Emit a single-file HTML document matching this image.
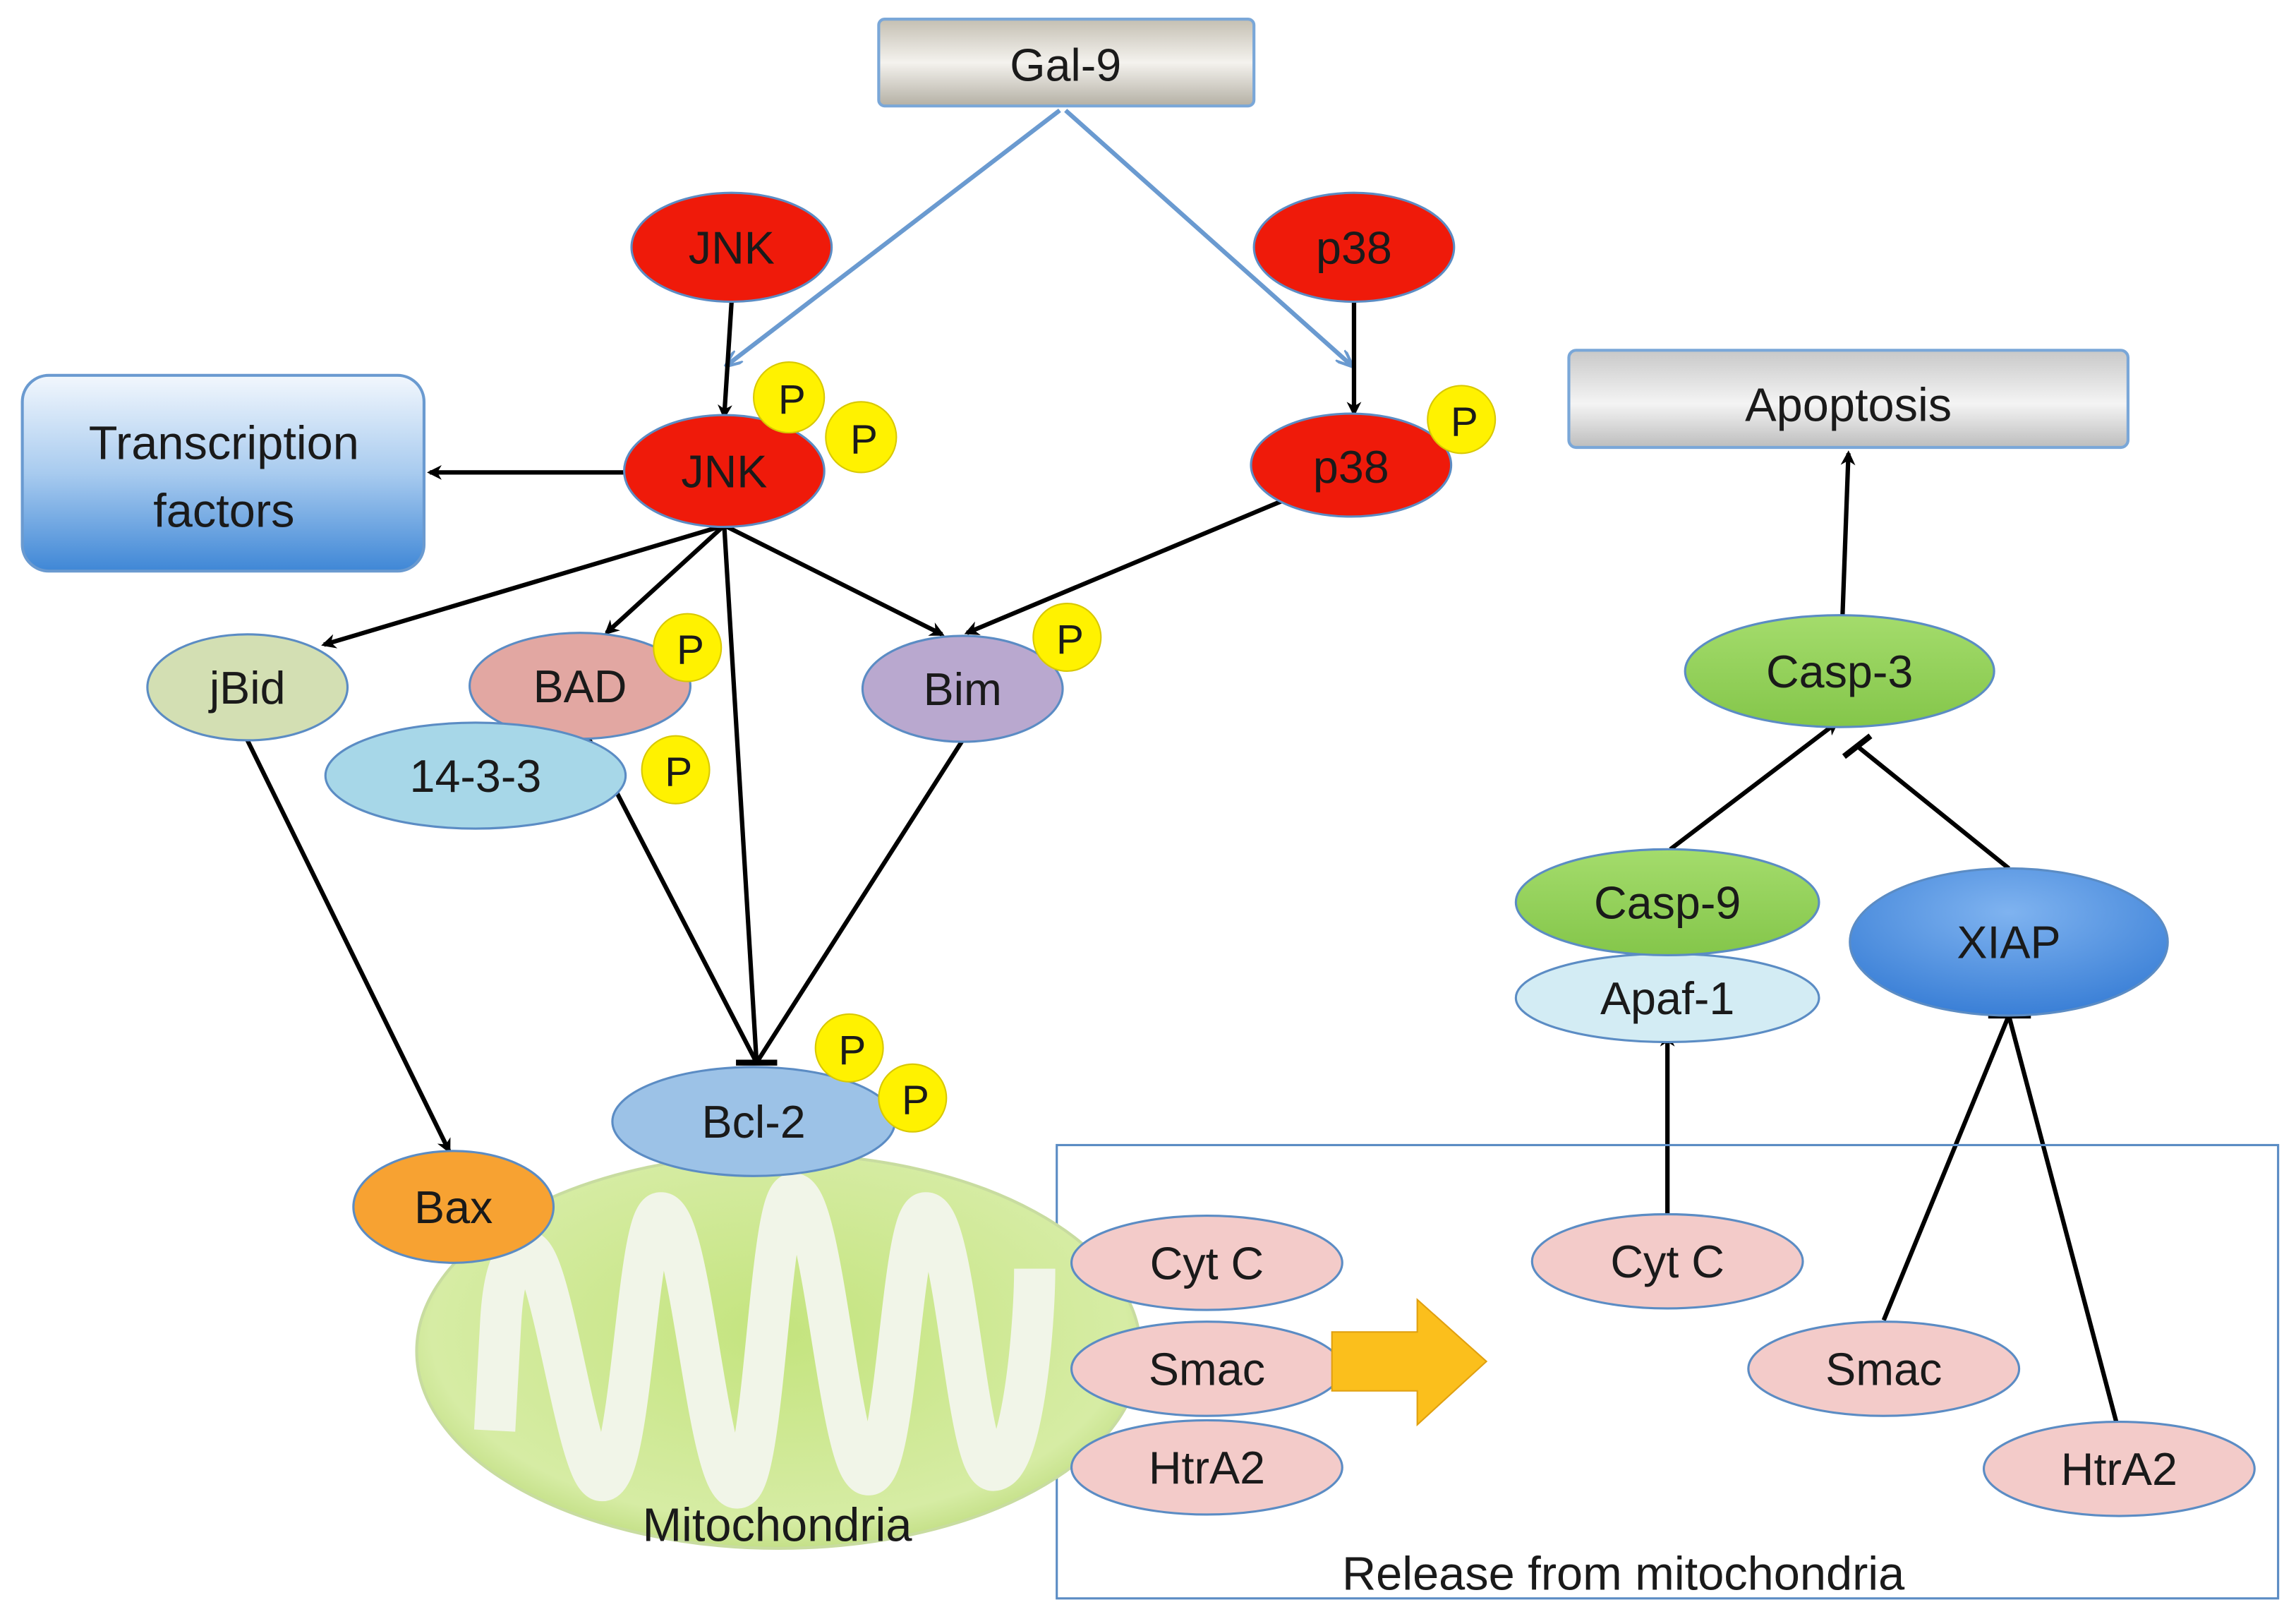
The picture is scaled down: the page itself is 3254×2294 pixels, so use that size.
<!DOCTYPE html>
<html><head><meta charset="utf-8"><style>
html,body{margin:0;padding:0;background:#fff;}
svg{display:block;}
text{font-family:"Liberation Sans",sans-serif;fill:#1a1a1a;}
</style></head><body>
<svg width="3254" height="2294" viewBox="0 0 1560 1100" xmlns="http://www.w3.org/2000/svg">
<defs>
<linearGradient id="gray" x1="0" y1="0" x2="0" y2="1"><stop offset="0" stop-color="#c4bfb2"/><stop offset="0.5" stop-color="#f4f2ee"/><stop offset="1" stop-color="#b4b0a4"/></linearGradient>
<linearGradient id="gray2" x1="0" y1="0" x2="0" y2="1"><stop offset="0" stop-color="#c8c8c8"/><stop offset="0.55" stop-color="#f4f4f4"/><stop offset="1" stop-color="#bdbdbd"/></linearGradient>
<linearGradient id="blueg" x1="0" y1="0" x2="0" y2="1"><stop offset="0" stop-color="#f2f7fd"/><stop offset="0.5" stop-color="#a8cbef"/><stop offset="1" stop-color="#3f87d6"/></linearGradient>
<radialGradient id="mito" cx="0.5" cy="0.45" r="0.6"><stop offset="0" stop-color="#c4e47e"/><stop offset="0.8" stop-color="#d6eca4"/><stop offset="1" stop-color="#b8d874"/></radialGradient>
<radialGradient id="xiap" cx="0.5" cy="0.3" r="0.7"><stop offset="0" stop-color="#7fb3f0"/><stop offset="1" stop-color="#3a7fd6"/></radialGradient>
<linearGradient id="green" x1="0" y1="0" x2="0" y2="1"><stop offset="0" stop-color="#a4dc6c"/><stop offset="1" stop-color="#84c64a"/></linearGradient>
<marker id="ar" markerWidth="10" markerHeight="10" refX="8" refY="5" orient="auto" markerUnits="userSpaceOnUse"><path d="M0,0 L10,5 L0,10 L3,5 Z" fill="#000"/></marker>
<marker id="arb" markerWidth="12" markerHeight="10" refX="10" refY="5" orient="auto" markerUnits="userSpaceOnUse"><path d="M0,0 L12,5 L0,10" fill="none" stroke="#6a9ad0" stroke-width="2"/></marker>
</defs>

<rect x="597" y="13" width="255" height="59" rx="4" fill="url(#gray)" stroke="#7aa7d8" stroke-width="2"/>
<text x="724" y="55" font-size="31" text-anchor="middle">Gal-9</text>
<line x1="720" y1="75" x2="494" y2="248" stroke="#6a9ad0" stroke-width="3" marker-end="url(#arb)"/>
<line x1="724" y1="75" x2="918" y2="248" stroke="#6a9ad0" stroke-width="3" marker-end="url(#arb)"/>

<rect x="15" y="255" width="273" height="133" rx="18" fill="url(#blueg)" stroke="#6a9ad0" stroke-width="2"/>
<text x="152" y="312" font-size="32" text-anchor="middle">Transcription</text>
<text x="152" y="358" font-size="32" text-anchor="middle">factors</text>

<rect x="1066" y="238" width="380" height="66" rx="5" fill="url(#gray2)" stroke="#7aa7d8" stroke-width="2"/>
<text x="1256" y="286" font-size="32" text-anchor="middle">Apoptosis</text>

<g stroke="#000" stroke-width="3" fill="none">
<line x1="497" y1="205" x2="492" y2="283" marker-end="url(#ar)"/>
<line x1="920" y1="203" x2="920" y2="281" marker-end="url(#ar)"/>
<line x1="425" y1="321" x2="292" y2="321" marker-end="url(#ar)"/>
<line x1="492" y1="357" x2="220" y2="438" marker-end="url(#ar)"/>
<line x1="492" y1="357" x2="412" y2="430" marker-end="url(#ar)"/>
<line x1="492" y1="357" x2="640" y2="431" marker-end="url(#ar)"/>
<line x1="872" y1="340" x2="657" y2="430" marker-end="url(#ar)"/>
<line x1="492" y1="357" x2="514" y2="722"/>
<line x1="398" y1="498" x2="514" y2="722"/>
<line x1="654" y1="503" x2="514" y2="722"/>
<line x1="500" y1="722" x2="528" y2="722" stroke-width="4"/>
<line x1="168" y1="503" x2="305" y2="782" marker-end="url(#ar)"/>
<line x1="1252" y1="418" x2="1256" y2="308" marker-end="url(#ar)"/>
<line x1="1135" y1="577" x2="1248" y2="491" marker-end="url(#ar)"/>
<line x1="1365" y1="590" x2="1262" y2="507"/>
<line x1="1253" y1="514" x2="1271" y2="500" stroke-width="4"/>
<line x1="1133" y1="825" x2="1133" y2="703" marker-end="url(#ar)"/>
<line x1="1280" y1="897" x2="1365" y2="690"/>
<line x1="1438" y1="966" x2="1365" y2="690"/>
<line x1="1351" y1="690" x2="1380" y2="690" stroke-width="4"/>
</g>

<rect x="718" y="778" width="830" height="308" fill="none" stroke="#5b8cc4" stroke-width="1.5"/>
<text x="1103" y="1080" font-size="32" text-anchor="middle">Release from mitochondria</text>

<ellipse cx="529" cy="918" rx="246" ry="134" fill="url(#mito)" stroke="#c8dca0" stroke-width="2"/>
<path d="M336,972 L340,900 C342,860 350,850 358,850 C375,850 392,1006 409,1006 C430,1006 432,824 449,824 C470,824 480,1011 501,1011 C520,1011 522,811 539,811 C560,811 570,1002 590,1002 C610,1002 612,824 629,824 C650,824 656,999 675,999 C695,999 703,900 703,862" fill="none" stroke="#f1f5e8" stroke-width="28" stroke-linejoin="round"/>
<text x="528" y="1047" font-size="32" text-anchor="middle">Mitochondria</text>

<g stroke="#5b8cc4" stroke-width="1.5">
<ellipse cx="497" cy="168" rx="68" ry="37" fill="#ef1a0a"/>
<ellipse cx="920" cy="168" rx="68" ry="37" fill="#ef1a0a"/>
<ellipse cx="492" cy="320" rx="68" ry="38" fill="#ef1a0a"/>
<ellipse cx="918" cy="316" rx="68" ry="35" fill="#ef1a0a"/>
<ellipse cx="168" cy="467" rx="68" ry="36" fill="#d3dfb3"/>
<ellipse cx="394" cy="466" rx="75" ry="36" fill="#e2a7a2"/>
<ellipse cx="323" cy="527" rx="102" ry="36" fill="#a7d7e8"/>
<ellipse cx="654" cy="468" rx="68" ry="36" fill="#b9a8cf"/>
<ellipse cx="512" cy="762" rx="96" ry="37" fill="#9cc2e7"/>
<ellipse cx="308" cy="820" rx="68" ry="38" fill="#f7a232"/>
<ellipse cx="820" cy="858" rx="92" ry="32" fill="#f3cbc9"/>
<ellipse cx="820" cy="930" rx="92" ry="32" fill="#f3cbc9"/>
<ellipse cx="820" cy="997" rx="92" ry="32" fill="#f3cbc9"/>
<ellipse cx="1133" cy="857" rx="92" ry="32" fill="#f3cbc9"/>
<ellipse cx="1280" cy="930" rx="92" ry="32" fill="#f3cbc9"/>
<ellipse cx="1440" cy="998" rx="92" ry="32" fill="#f3cbc9"/>
<ellipse cx="1250" cy="456" rx="105" ry="38" fill="url(#green)"/>
<ellipse cx="1133" cy="678" rx="103" ry="30" fill="#d3ecf4"/>
<ellipse cx="1133" cy="613" rx="103" ry="36" fill="url(#green)"/>
<ellipse cx="1365" cy="640" rx="108" ry="50" fill="url(#xiap)"/>
</g>
<g fill="#fff200" stroke="#d8c800" stroke-width="1">
<circle cx="536" cy="270" r="24"/><circle cx="585" cy="297" r="24"/>
<circle cx="993" cy="285" r="23"/>
<circle cx="467" cy="440" r="23"/><circle cx="459" cy="523" r="23"/>
<circle cx="725" cy="433" r="23"/>
<circle cx="577" cy="712" r="23"/><circle cx="620" cy="746" r="23"/>
</g>
<g font-size="28" text-anchor="middle">
<text x="538" y="281">P</text><text x="587" y="308">P</text><text x="995" y="296">P</text>
<text x="469" y="451">P</text><text x="461" y="534">P</text><text x="727" y="444">P</text>
<text x="579" y="723">P</text><text x="622" y="757">P</text>
</g>
<path d="M905,905 L963,905 L963,883 L1010,925 L963,968 L963,945 L905,945 Z" fill="#fbbf1c" stroke="#e0a010" stroke-width="1"/>

<g font-size="31" text-anchor="middle">
<text x="497" y="179">JNK</text>
<text x="920" y="179">p38</text>
<text x="492" y="331">JNK</text>
<text x="918" y="328">p38</text>
<text x="168" y="478">jBid</text>
<text x="394" y="477">BAD</text>
<text x="323" y="538">14-3-3</text>
<text x="654" y="479">Bim</text>
<text x="512" y="773">Bcl-2</text>
<text x="308" y="831">Bax</text>
<text x="820" y="869">Cyt C</text>
<text x="820" y="941">Smac</text>
<text x="820" y="1008">HtrA2</text>
<text x="1133" y="868">Cyt C</text>
<text x="1280" y="941">Smac</text>
<text x="1440" y="1009">HtrA2</text>
<text x="1250" y="467">Casp-3</text>
<text x="1133" y="624">Casp-9</text>
<text x="1133" y="689">Apaf-1</text>
<text x="1365" y="651">XIAP</text>
</g>
</svg>
</body></html>
